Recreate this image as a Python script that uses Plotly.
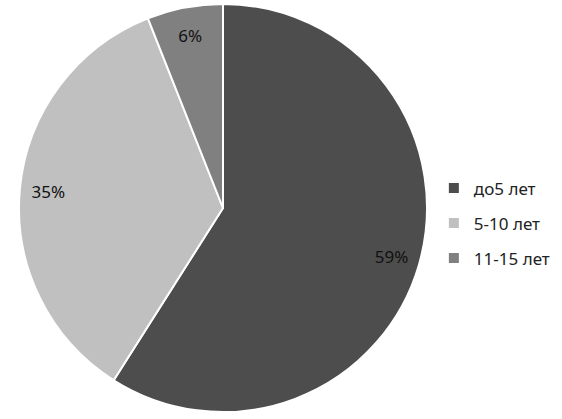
import plotly.graph_objects as go

labels = ["до5 лет", "5-10 лет", "11-15 лет"]
values = [59, 35, 6]
colors = ["#4d4d4d", "#c0c0c0", "#808080"]

W, H = 562, 419
dom_x = [18 / W, 428 / W]
dom_y = [(H - 412) / H, (H - 4) / H]

fig = go.Figure()
# full pie (no text)
fig.add_trace(go.Pie(
    labels=labels, values=values, sort=False, direction="clockwise", rotation=0,
    marker=dict(colors=colors, line=dict(color="white", width=2)),
    textinfo="none", hoverinfo="skip", showlegend=False, domain=dict(x=dom_x, y=dom_y),
))
# ring overlay only for placing labels near outer edge
fig.add_trace(go.Pie(
    labels=labels, values=values, sort=False, direction="clockwise", rotation=0,
    hole=0.72,
    marker=dict(colors=["rgba(0,0,0,0)"] * 3, line=dict(width=0)),
    texttemplate="%{value}%", textposition="inside", insidetextorientation="horizontal",
    textfont=dict(family="Noto Sans", size=17, color="#111111"),
    hoverinfo="skip", showlegend=False, domain=dict(x=dom_x, y=dom_y),
))
# legend entries
for i, (lab, col) in enumerate(zip(labels, colors)):
    fig.add_trace(go.Scatter(
        x=[None], y=[None], mode="markers", name=lab, legendgroup=f"g{i}",
        marker=dict(symbol="square", size=10, color=col),
    ))

fig.update_layout(
    width=W, height=H, margin=dict(l=0, r=0, t=0, b=0),
    paper_bgcolor="white", plot_bgcolor="white",
    xaxis=dict(visible=False), yaxis=dict(visible=False),
    legend=dict(x=0.772, y=0.467, xanchor="left", yanchor="middle",
                font=dict(family="Noto Sans", size=17, color="#222222"),
                tracegroupgap=10, itemwidth=30, bgcolor="rgba(0,0,0,0)"),
    uniformtext=dict(minsize=17, mode="show"),
    font=dict(family="Noto Sans"),
)
fig.write_html("out.html", config={"displayModeBar": False},
               post_script="document.body.style.margin='0';")
